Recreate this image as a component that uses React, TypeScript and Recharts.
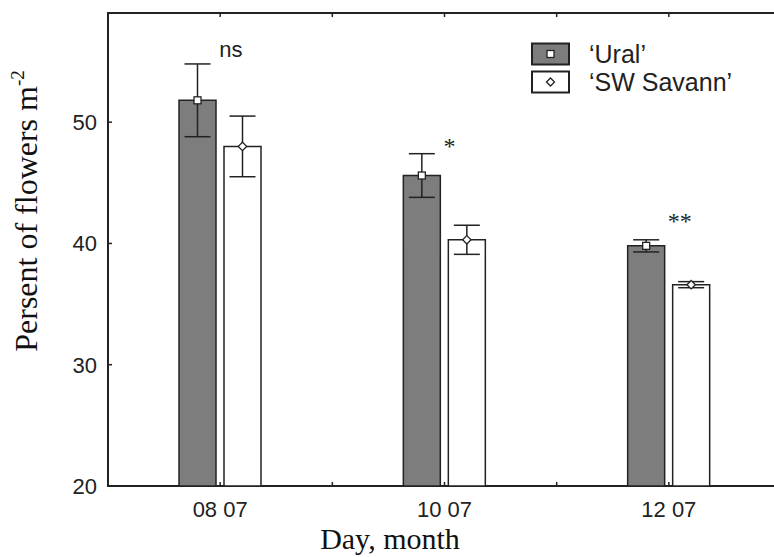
import React from 'react';
import {
  BarChart,
  Bar,
  XAxis,
  YAxis,
  ErrorBar,
  LabelList,
  ReferenceArea,
  ReferenceDot,
} from 'recharts';

// ---- data ----
const categories = ['08 07', '10 07', '12 07'];
const uralMeans = [51.8, 45.6, 39.8];
const uralErrors = [3.0, 1.8, 0.5];
const savannMeans = [48.0, 40.3, 36.6];
const savannErrors = [2.5, 1.2, 0.25];
const sigLabels = ['ns', '*', '**'];
const sigLevels = [55.4, 47.4, 41.2];
const yTicks = [20, 30, 40, 50];
const yDomain = [20, 59];
const seriesNames = ['\u2018Ural\u2019', '\u2018SW Savann\u2019'];
const xTitle = 'Day, month';
const yTitle = 'Persent of flowers m';
const yTitleSup = '-2';

const data = categories.map((c, i) => ({
  day: c,
  ural: uralMeans[i],
  uralErr: uralErrors[i],
  savann: savannMeans[i],
  savannErr: savannErrors[i],
}));

// ---- layout ----
const W = 790;
const H = 557;
const MARGIN = { top: 13, right: 9, bottom: 0, left: 0 };
const YAXIS_W = 108;
const XAXIS_H = 71;
const PLOT_TOP = MARGIN.top;
const PLOT_BOTTOM = H - XAXIS_H;
const HALF_BAND = (W - MARGIN.right - YAXIS_W) / categories.length / 2;
const INK = '#222';
const DARK_FILL = '#7d7d7d';
const SANS = '"Liberation Sans", Arial, sans-serif';
const SERIF = '"Liberation Serif", "Times New Roman", serif';

const XTick = (props: any) => {
  const { x, payload } = props;
  const xs = [x, x + HALF_BAND];
  return (
    <g>
      {xs.map((xx, i) => (
        <g key={i}>
          <line x1={xx} x2={xx} y1={PLOT_BOTTOM} y2={PLOT_BOTTOM - 4} stroke={INK} strokeWidth={1.5} />
          <line x1={xx} x2={xx} y1={PLOT_TOP} y2={PLOT_TOP + 4} stroke={INK} strokeWidth={1.5} />
        </g>
      ))}
      <text x={x} y={PLOT_BOTTOM + 30.5} textAnchor="middle" fontFamily={SANS} fontSize={22} fill={INK}>
        {payload.value}
      </text>
    </g>
  );
};

const YTick = (props: any) => {
  const { y, payload } = props;
  return (
    <g>
      <line x1={YAXIS_W} x2={YAXIS_W + 4} y1={y} y2={y} stroke={INK} strokeWidth={1.5} />
      <text x={YAXIS_W - 11} y={y + 8} textAnchor="end" fontFamily={SANS} fontSize={22} fill={INK}>
        {payload.value}
      </text>
    </g>
  );
};

const YTitle = () => (
  <text
    x={37}
    y={211}
    transform="rotate(-90, 37, 211)"
    textAnchor="middle"
    fontFamily={SERIF}
    fontSize={32}
    fill="#111"
  >
    {yTitle}
    <tspan fontSize={19} dy={-13}>
      {yTitleSup}
    </tspan>
  </text>
);

const XTitle = () => (
  <text x={390} y={549} textAnchor="middle" fontFamily={SERIF} fontSize={30} fill="#111">
    {xTitle}
  </text>
);

const SigLabel = (props: any) => {
  const { viewBox, text } = props;
  if (!viewBox) return null;
  const isStar = text.indexOf('*') >= 0;
  return (
    <text
      x={viewBox.x - 1}
      y={viewBox.y + (viewBox.height || 0) / 2}
      textAnchor="start"
      fontFamily={isStar ? SERIF : SANS}
      fontSize={isStar ? 24 : 22}
      fill={INK}
    >
      {text}
    </text>
  );
};

const SquareMark = (props: any) => {
  const { x, y, width } = props;
  const cx = x + width / 2;
  return <rect x={cx - 3.5} y={y - 3.5} width={7} height={7} fill="#fff" stroke={INK} strokeWidth={1.3} />;
};

const DiamondMark = (props: any) => {
  const { x, y, width } = props;
  const cx = x + width / 2;
  const r = 4.2;
  return (
    <polygon
      points={`${cx},${y - r} ${cx + r},${y} ${cx},${y + r} ${cx - r},${y}`}
      fill="#fff"
      stroke={INK}
      strokeWidth={1.3}
    />
  );
};

const LegendBox = () => (
  <div
    style={{
      position: 'absolute',
      left: 531,
      top: 39.5,
      width: 240,
      fontFamily: SANS,
      fontSize: 25,
      color: INK,
    }}
  >
    {seriesNames.map((name, i) => (
      <div key={name} style={{ display: 'flex', alignItems: 'center', height: 28.5 }}>
        <svg width={40} height={24} style={{ display: 'block' }}>
          <rect x={1} y={1.5} width={37} height={21} fill={i === 0 ? DARK_FILL : '#fff'} stroke={INK} strokeWidth={2} />
          {i === 0 ? (
            <rect x={16} y={8.5} width={7} height={7} fill="#fff" stroke={INK} strokeWidth={1.3} />
          ) : (
            <polygon points="19.5,8 23.5,12 19.5,16 15.5,12" fill="#fff" stroke={INK} strokeWidth={1.3} />
          )}
        </svg>
        <span style={{ marginLeft: 18, lineHeight: '28px', whiteSpace: 'nowrap' }}>{name}</span>
      </div>
    ))}
  </div>
);

export default function App() {
  return (
    <div
      style={{
        position: 'absolute',
        left: 0,
        top: 0,
        width: 774,
        height: 557,
        overflow: 'hidden',
        background: '#fff',
      }}
    >
      <BarChart width={W} height={H} data={data} margin={MARGIN} barGap={8}>
        <XAxis
          dataKey="day"
          height={XAXIS_H}
          axisLine={false}
          tickLine={false}
          tickSize={0}
          tickMargin={0}
          tick={<XTick />}
          interval={0}
          label={<XTitle />}
        />
        <YAxis
          width={YAXIS_W}
          domain={yDomain}
          ticks={yTicks}
          allowDataOverflow
          axisLine={false}
          tickLine={false}
          tickSize={0}
          tickMargin={0}
          tick={<YTick />}
          label={<YTitle />}
        />
        <Bar
          dataKey="ural"
          name={seriesNames[0]}
          fill={DARK_FILL}
          stroke={INK}
          strokeWidth={1.5}
          barSize={37}
          isAnimationActive={false}
        >
          <ErrorBar dataKey="uralErr" width={13} stroke={INK} strokeWidth={1.5} direction="y" />
          <LabelList dataKey="ural" content={<SquareMark />} />
        </Bar>
        <Bar
          dataKey="savann"
          name={seriesNames[1]}
          fill="#fff"
          stroke={INK}
          strokeWidth={1.5}
          barSize={37}
          isAnimationActive={false}
        >
          <ErrorBar dataKey="savannErr" width={13} stroke={INK} strokeWidth={1.5} direction="y" />
          <LabelList dataKey="savann" content={<DiamondMark />} />
        </Bar>
        <ReferenceArea y1={yDomain[0]} y2={yDomain[1]} fill="none" stroke={INK} strokeWidth={2} ifOverflow="visible" />
        {categories.map((c, i) => (
          <ReferenceDot
            key={c}
            x={c}
            y={sigLevels[i]}
            r={0}
            fill="none"
            stroke="none"
            ifOverflow="visible"
            label={<SigLabel text={sigLabels[i]} />}
          />
        ))}
      </BarChart>
      <LegendBox />
    </div>
  );
}
